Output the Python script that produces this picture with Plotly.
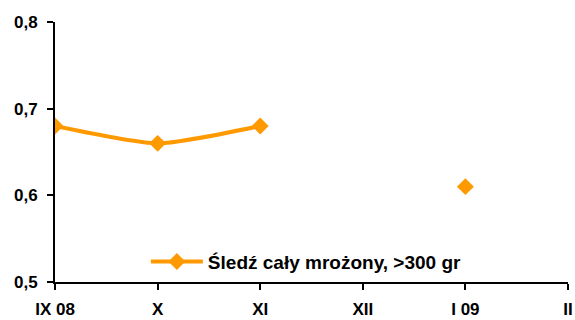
import plotly.graph_objects as go

categories = ["IX 08", "X", "XI", "XII", "I 09", "II"]
values = [0.68, 0.66, 0.68, None, 0.61, None]
series_name = "Śledź cały mrożony, >300 gr"

orange = "#FF9900"
fam = "Liberation Sans, Arial, sans-serif"

fig = go.Figure()
fig.add_trace(go.Scatter(
    x=list(range(len(categories))), y=values, name=series_name,
    mode="lines+markers",
    line=dict(color=orange, width=4, shape="spline", smoothing=0.6),
    marker=dict(symbol="diamond", size=13, color=orange),
    connectgaps=False, showlegend=True,
))

fig.update_layout(
    width=575, height=320,
    margin=dict(l=55, r=7, t=22, b=38, autoexpand=False),
    paper_bgcolor="white", plot_bgcolor="white",
    separators=", ",
    font=dict(family=fam, size=17, color="black"),
    showlegend=True,
    legend=dict(x=0.49, y=0.005, xanchor="center", yanchor="bottom",
                bgcolor="rgba(0,0,0,0)",
                font=dict(size=19, family=fam, color="black", weight="bold"),
                itemwidth=52),
    xaxis=dict(range=[-0.0001, 5.0001], tickmode="array", tickvals=list(range(len(categories))),
               ticktext=categories, automargin=False,
               tickfont=dict(size=17, family=fam, color="black", weight="bold"),
               ticklabelstandoff=5,
               showgrid=False, zeroline=False, showline=True, linecolor="black", linewidth=2,
               ticks="outside", ticklen=6, tickcolor="black", tickwidth=1.5),
    yaxis=dict(range=[0.5, 0.8], dtick=0.1, tickformat=".1f", automargin=False,
               tickfont=dict(size=17, family=fam, color="black", weight="bold"),
               ticklabelstandoff=6,
               showgrid=False, zeroline=False, showline=True, linecolor="black", linewidth=2,
               ticks="outside", ticklen=6, tickcolor="black", tickwidth=1.5),
)
fig.write_html("out.html", config={"displayModeBar": False},
               post_script="document.body.style.margin='0';document.body.style.padding='0';")
